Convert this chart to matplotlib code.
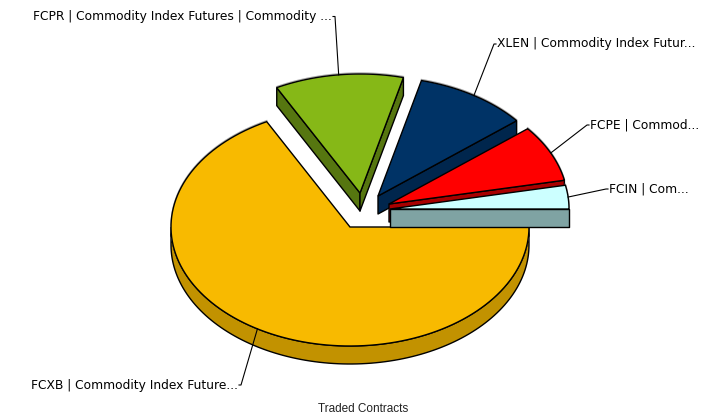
import numpy as np
import matplotlib
matplotlib.use("Agg")
import matplotlib.pyplot as plt
from matplotlib.patches import Polygon

labels = ["FCXB | Commodity Index Future...", "FCPR | Commodity Index Futures | Commodity ...",
          "XLEN | Commodity Index Futur...", "FCPE | Commod...", "FCIN | Com..."]
values = [67.3, 11.6, 10.2, 7.7, 3.2]
top_colors = ["#F8BA00", "#86B817", "#003366", "#FF0000", "#CCFFFF"]
side_colors = ["#C29200", "#567610", "#00264D", "#A80000", "#7FA3A3"]
# pie centres after explosion, in pixels
centers = [(350, 227), (360, 193), (378, 196), (389, 204), (390, 209)]
# label anchor (elbow) and text alignment
elbows = [(241, 385), (335, 16.5), (494, 44), (587, 125), (606, 189)]
has = ["right", "right", "left", "left", "left"]

RX, RY, DEPTH = 179, 119, 18

fig = plt.figure(figsize=(7.18, 4.19), dpi=100)
ax = fig.add_axes([0, 0, 1, 1])
ax.set_xlim(0, 718)
ax.set_ylim(419, 0)
ax.axis("off")

fr = np.array(values) / sum(values) * 360
# slices run counter-clockwise from 0 deg starting with the last one; first (big) slice ends at 360
ends = {}
a = 0.0
for i in range(len(values) - 1, -1, -1):
    ends[i] = (a, a + fr[i])
    a += fr[i]


def pt(c, deg, dy=0):
    t = np.radians(deg)
    return c[0] + RX * np.cos(t), c[1] - RY * np.sin(t) + dy


def arc(c, a0, a1, dy=0):
    t = np.linspace(a0, a1, 120)
    return np.array([pt(c, v, dy) for v in t])


def quad(c, deg, color, z):
    p = pt(c, deg)
    q = [c, p, (p[0], p[1] + DEPTH), (c[0], c[1] + DEPTH)]
    ax.add_patch(Polygon(q, closed=True, fc=color, ec="black", lw=1, joinstyle="round", zorder=z))


for i in range(len(values)):
    a0, a1 = ends[i]
    c = centers[i]
    z = 2 + i * 2
    if i == 0:
        # big slice: only the front rim shows
        top = arc(c, 180, 360)
        bot = arc(c, 360, 180, DEPTH)
        ax.add_patch(Polygon(np.vstack([top, bot]), closed=True, fc=side_colors[i], ec="black", lw=1, zorder=z))
    else:
        if labels[i].startswith("FCPR"):
            quad(c, a1, side_colors[i], z)
        quad(c, a0, side_colors[i], z)
    face = np.vstack([[c], arc(c, a0, a1)])
    # soft grey rim just above the curved edge
    rim = arc(c, a0, a1, -1)
    ax.plot(rim[:, 0], rim[:, 1], color="#A8A8A8", lw=1, zorder=z)
    ax.add_patch(Polygon(face, closed=True, fc=top_colors[i], ec="black", lw=1, joinstyle="miter", zorder=z + 1))

# leader lines and labels
for i, lab in enumerate(labels):
    a0, a1 = ends[i]
    p = pt(centers[i], (a0 + a1) / 2)
    ex, ey = elbows[i]
    sgn = 1 if has[i] == "left" else -1
    ax.plot([p[0], ex, ex + 2 * sgn], [p[1], ey, ey], color="black", lw=0.8, zorder=20)
    ax.text(ex + 2 * sgn + sgn, ey, lab, ha=has[i], va="center", fontsize=8.8,
            family="DejaVu Sans", color="black", zorder=21)

ax.text(363, 409, "Traded Contracts", ha="center", va="center", fontsize=8.5,
        family="Liberation Sans", color="#222222")

fig.savefig("out.png", dpi=100)
